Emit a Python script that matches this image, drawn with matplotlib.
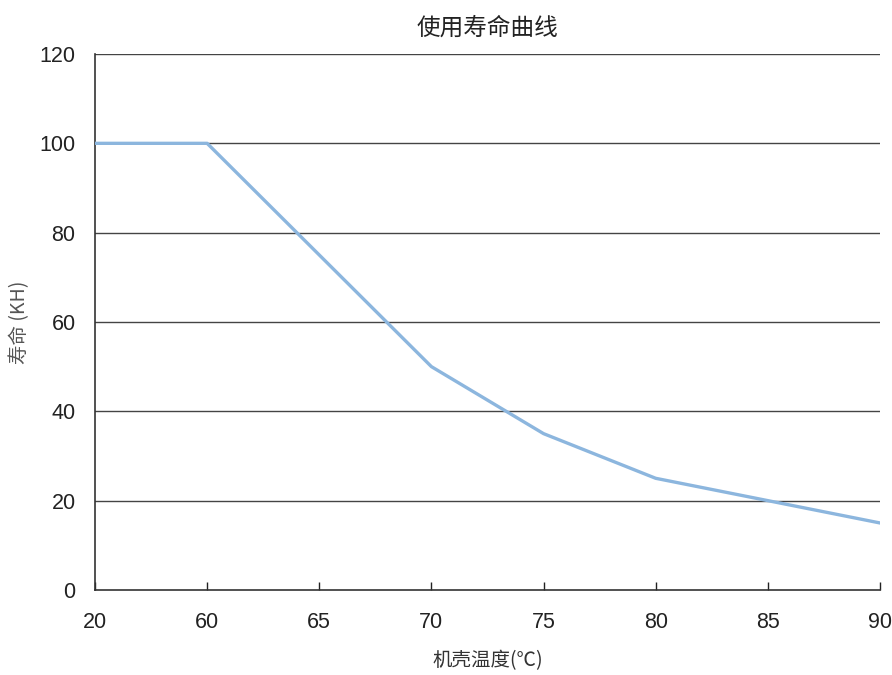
import matplotlib
matplotlib.use("Agg")
import matplotlib.pyplot as plt
from matplotlib import font_manager

# 数据：机壳温度 vs 寿命
temps = ["20", "60", "65", "70", "75", "80", "85", "90"]
life_kh = [100, 100, 75, 50, 35, 25, 20, 15]
y_ticks = [0, 20, 40, 60, 80, 100, 120]

names = {f.name for f in font_manager.fontManager.ttflist}
num_font = "Liberation Sans Narrow" if "Liberation Sans Narrow" in names else "Liberation Sans"
cjk = ["Noto Sans CJK SC", "DejaVu Sans"]

fig = plt.figure(figsize=(8.92, 6.75), dpi=100)
ax = fig.add_axes([0.1065, 0.126, 0.88, 0.794])

x = list(range(len(temps)))
ax.plot(x, life_kh, color="#8cb6de", linewidth=2.4, zorder=3)

ax.set_xlim(0, len(temps) - 1)
ax.set_ylim(0, 120)
ax.set_yticks(y_ticks)
for v in y_ticks[1:]:
    ax.axhline(v, color="#444444", linewidth=1.0, zorder=1)

ax.set_xticks(x)
ax.set_xticklabels(temps)
ax.tick_params(axis="x", direction="in", length=6, width=1, pad=16,
               labelsize=15.5, colors="#222222")
ax.tick_params(axis="y", length=0, pad=14, labelsize=15.5, colors="#222222")
for lab in ax.get_xticklabels() + ax.get_yticklabels():
    lab.set_family(num_font)

for s in ["top", "right"]:
    ax.spines[s].set_visible(False)
for s in ["left", "bottom"]:
    ax.spines[s].set_color("#333333")
    ax.spines[s].set_linewidth(1.2)

ax.set_title("使用寿命曲线", family=cjk, fontsize=17, pad=14, color="#222222")
ax.set_xlabel("机壳温度(℃)", family=cjk, fontsize=14, color="#333333")
ax.set_ylabel("寿命 (KH)", family=cjk, fontsize=14, color="#555555")
ax.xaxis.set_label_coords(0.5, -0.113)
ax.yaxis.set_label_coords(-0.083, 0.5)

fig.savefig("out.png", dpi=100)
